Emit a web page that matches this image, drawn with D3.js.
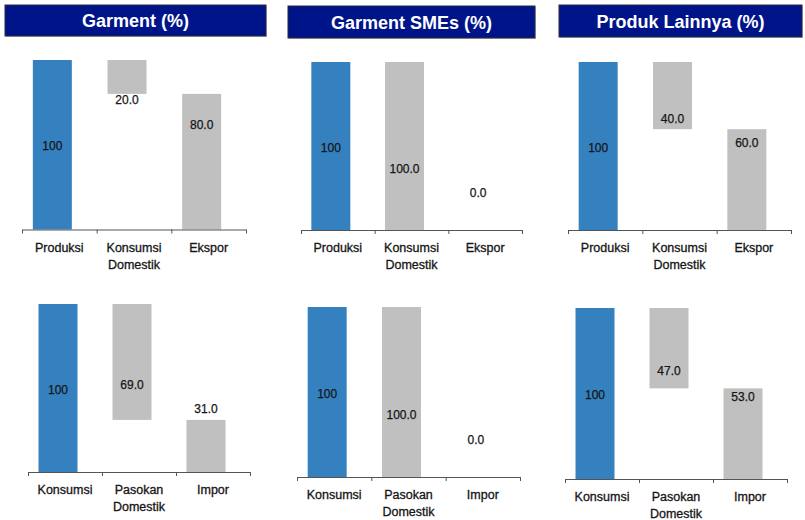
<!DOCTYPE html>
<html>
<head>
<meta charset="utf-8">
<script src="https://cdn.jsdelivr.net/npm/d3@7"></script>
<style>
  html, body { margin: 0; padding: 0; background: #fff; }
  svg { display: block; font-family: "Liberation Sans", Arial, Helvetica, sans-serif; }
</style>
</head>
<body>
<svg id="chart" width="805" height="520"></svg>
<script>
// Panel titles (one column each)
const panelTitles = ["Garment (%)", "Garment SMEs (%)", "Produk Lainnya (%)"];

// Row 1: supply side (production split into domestic consumption and export)
const supplyCategories = [["Produksi"], ["Konsumsi", "Domestik"], ["Ekspor"]];
const produksi = [100, 100, 100];
const konsumsiDomestik = [20.0, 100.0, 40.0];
const ekspor = [80.0, 0.0, 60.0];

// Row 2: demand side (consumption split into domestic supply and import)
const demandCategories = [["Konsumsi"], ["Pasokan", "Domestik"], ["Impor"]];
const konsumsi = [100, 100, 100];
const pasokanDomestik = [69.0, 100.0, 47.0];
const impor = [31.0, 0.0, 53.0];

// Panel frames: axis extent and vertical plotting range for each small chart
const frames = [
  [{x0: 22, x1: 246, yTop: 60, yBase: 229.5}, {x0: 301, x1: 522, yTop: 62, yBase: 230}, {x0: 568, x1: 791, yTop: 62, yBase: 230}],
  [{x0: 28, x1: 250, yTop: 304, yBase: 472}, {x0: 297, x1: 520, yTop: 307, yBase: 477}, {x0: 565, x1: 787, yTop: 308, yBase: 479}]
];
const headerBoxes = [
  {x: 5, y: 5, w: 261, h: 31},
  {x: 288, y: 6, w: 247, h: 32},
  {x: 559, y: 5, w: 243, h: 32}
];

const svg = d3.select("#chart");
const BLUE = "#3581c0", GREY = "#c0c0c0", NAVY = "#00148a", INK = "#151515";
const fmtTotal = d3.format("d"), fmtPart = d3.format(".1f");

// Column headers
headerBoxes.forEach((b, i) => {
  const g = svg.append("g");
  g.append("rect").attr("x", b.x + 1).attr("y", b.y + 1).attr("width", b.w).attr("height", b.h)
    .attr("fill", "#9a9a9a").attr("opacity", 0.5);
  g.append("rect").attr("x", b.x).attr("y", b.y).attr("width", b.w).attr("height", b.h)
    .attr("fill", NAVY).attr("stroke", "#2b2b3a").attr("stroke-width", 1);
  g.append("text").attr("x", b.x + b.w / 2).attr("y", b.y + b.h / 2 + 6.5)
    .attr("text-anchor", "middle").attr("fill", "#fff")
    .attr("font-weight", "bold").attr("font-size", 18)
    .text(panelTitles[i]);
});

function drawPanel(frame, categories, total, part, rest) {
  const names = categories.map(c => c.join(" "));
  const x = d3.scaleBand().domain(names).range([frame.x0, frame.x1]);
  const y = d3.scaleLinear().domain([0, 100]).range([frame.yBase, frame.yTop]);
  const tickPos = d3.scaleLinear().domain([0, names.length]).range([frame.x0, frame.x1]);
  const barW = 39, shift = -7;

  // Waterfall segments: total, the part taken off the top, and the remainder from zero
  const bars = [
    {name: names[0], lo: 0, hi: total, color: BLUE, label: fmtTotal(total), dy: 1.5},
    {name: names[1], lo: total - part, hi: total, color: GREY, label: fmtPart(part), dy: 23},
    {name: names[2], lo: 0, hi: rest, color: GREY, label: fmtPart(rest), dy: -37}
  ];

  const g = svg.append("g");
  g.selectAll("rect.bar").data(bars).join("rect")
    .attr("class", "bar")
    .attr("x", d => x(d.name) + x.bandwidth() / 2 + shift - barW / 2)
    .attr("width", barW)
    .attr("y", d => y(d.hi))
    .attr("height", d => y(d.lo) - y(d.hi))
    .attr("fill", d => d.color);

  g.selectAll("text.val").data(bars).join("text")
    .attr("class", "val")
    .attr("x", d => x(d.name) + x.bandwidth() / 2 + shift)
    .attr("y", d => (y(d.lo) + y(d.hi)) / 2 + d.dy)
    .attr("dy", "0.35em")
    .attr("text-anchor", "middle")
    .attr("font-size", 12)
    .attr("fill", INK)
    .attr("stroke", INK).attr("stroke-width", 0.25)
    .text(d => d.label);

  // Category axis with tick marks at band boundaries
  const axis = d3.axisBottom(tickPos).tickValues(d3.range(names.length + 1))
    .tickFormat("").tickSize(4).tickSizeOuter(0);
  const ag = g.append("g").attr("transform", `translate(0,${frame.yBase})`).call(axis);
  ag.selectAll("path, line").attr("stroke", "#555").attr("stroke-width", 1);

  const lab = g.selectAll("text.cat").data(categories).join("text")
    .attr("class", "cat")
    .attr("x", (d, i) => x(names[i]) + x.bandwidth() / 2)
    .attr("y", frame.yBase + 22)
    .attr("text-anchor", "middle")
    .attr("font-size", 12.5)
    .attr("fill", INK)
    .attr("stroke", INK).attr("stroke-width", 0.3);
  lab.selectAll("tspan").data(d => d).join("tspan")
    .attr("x", function() { return this.parentNode.getAttribute("x"); })
    .attr("dy", (d, i) => i === 0 ? 0 : 17)
    .text(d => d);
}

panelTitles.forEach((_, i) => {
  drawPanel(frames[0][i], supplyCategories, produksi[i], konsumsiDomestik[i], ekspor[i]);
  drawPanel(frames[1][i], demandCategories, konsumsi[i], pasokanDomestik[i], impor[i]);
});
</script>
</body>
</html>
